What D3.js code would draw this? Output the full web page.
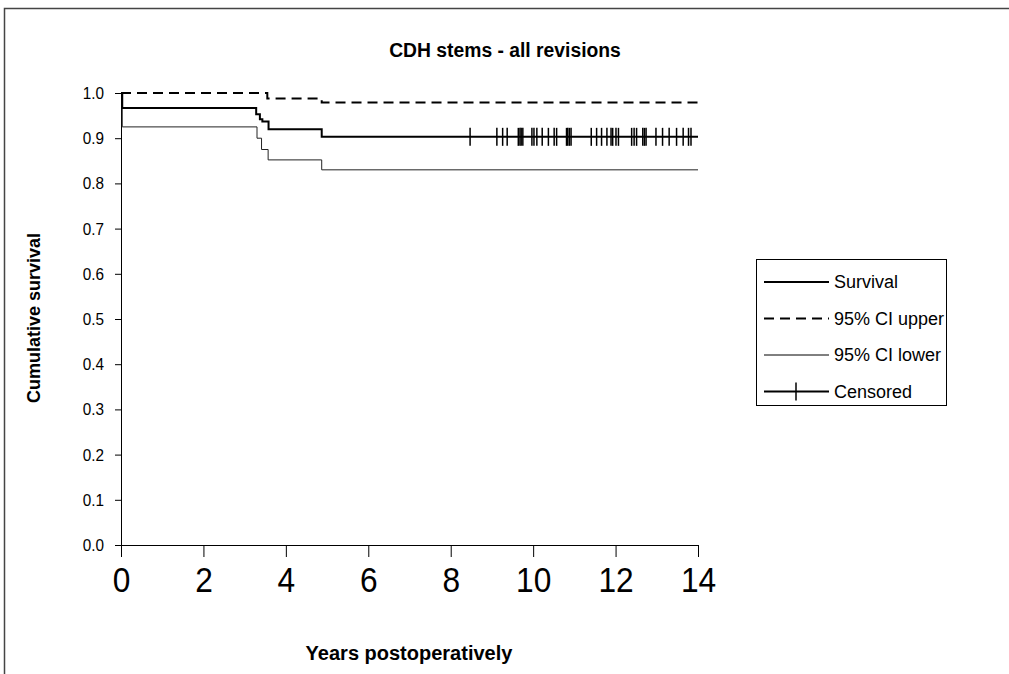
<!DOCTYPE html>
<html>
<head>
<meta charset="utf-8">
<script src="https://cdn.jsdelivr.net/npm/d3@7"></script>
<style>
  body { margin: 0; background: #fff; }
  svg { display: block; font-family: "Liberation Sans", Arial, sans-serif; }
</style>
</head>
<body>
<div id="chart"></div>
<script>
// Kaplan-Meier survival
var survTime = [0, 0.03, 3.28, 3.37, 3.43, 3.58, 4.87, 14];
var survValue = [1, 0.967, 0.953, 0.942, 0.937, 0.920, 0.903, 0.903];

var upperTime = [0, 3.55, 4.87, 14];
var upperValue = [1, 0.988, 0.979, 0.979];

var lowerTime = [0, 0.03, 3.30, 3.41, 3.57, 4.87, 14];
var lowerValue = [1, 0.925, 0.900, 0.875, 0.852, 0.830, 0.830];

// censored cases (years), all on the last survival level
var censoredTime = [8.47, 9.12, 9.26, 9.37, 9.64, 9.68, 9.71, 9.75, 9.97, 10.02, 10.09,
    10.22, 10.37, 10.51, 10.57, 10.81, 10.84, 10.88, 10.92, 11.41, 11.54, 11.66,
    11.79, 11.89, 11.93, 12.01, 12.07, 12.39, 12.45, 12.51, 12.66, 12.70, 12.74,
    12.98, 13.14, 13.30, 13.48, 13.64, 13.77, 13.83];
var censoredValue = 0.903;

var xTicks = [0, 2, 4, 6, 8, 10, 12, 14];
var yTicks = [0, 0.1, 0.2, 0.3, 0.4, 0.5, 0.6, 0.7, 0.8, 0.9, 1.0];

var legendLabels = ["Survival", "95% CI upper", "95% CI lower", "Censored"];

var width = 1009,
    height = 674;

var svg = d3.select("#chart").append("svg")
    .attr("width", width)
    .attr("height", height);

// outer frame (top and left edges only are visible)
svg.append("path")
    .attr("d", "M4.5," + height + "V8.5H" + width)
    .attr("fill", "none")
    .attr("stroke", "#444")
    .attr("stroke-width", 1.5);

var x = d3.scaleLinear().domain([0, 14]).range([121, 698]);
var y = d3.scaleLinear().domain([0, 1]).range([545, 93]);

// title
svg.append("text")
    .attr("transform", "translate(505,57)scale(0.92,1)")
    .attr("text-anchor", "middle")
    .attr("font-size", "21px")
    .attr("font-weight", "bold")
    .text("CDH stems - all revisions");

// axes
var yAxis = d3.axisLeft(y)
    .tickValues(yTicks)
    .tickFormat(d3.format(".1f"))
    .tickSize(6)
    .tickSizeOuter(0)
    .tickPadding(11);

var xAxis = d3.axisBottom(x)
    .tickValues(xTicks)
    .tickSize(12)
    .tickSizeOuter(0)
    .tickPadding(9);

var gy = svg.append("g")
    .attr("transform", "translate(" + x(0) + ",0)")
    .call(yAxis);
gy.selectAll("text")
    .attr("font-size", "17px")
    .attr("fill", "#000")
    .attr("transform", "translate(-17,0)scale(0.9,1)translate(17,0)");

var gx = svg.append("g")
    .attr("transform", "translate(0," + y(0) + ")")
    .call(xAxis);
gx.selectAll("text")
    .attr("font-size", "36px")
    .attr("fill", "#000")
    .attr("transform", "scale(0.88,1)");

svg.selectAll(".domain, .tick line").attr("stroke", "#000");
svg.selectAll("g.tick text").attr("font-family", "Liberation Sans, Arial, sans-serif");

// axis titles
svg.append("text")
    .attr("x", 409)
    .attr("y", 660)
    .attr("text-anchor", "middle")
    .attr("font-size", "20px")
    .attr("font-weight", "bold")
    .text("Years postoperatively");

svg.append("text")
    .attr("transform", "translate(40,318)rotate(-90)")
    .attr("text-anchor", "middle")
    .attr("font-size", "18px")
    .attr("font-weight", "bold")
    .text("Cumulative survival");

// step lines
var step = d3.line()
    .x(function (d) { return x(d[0]); })
    .y(function (d) { return y(d[1]); })
    .curve(d3.curveStepAfter);

function pairs(t, v) {
    return t.map(function (d, i) { return [d, v[i]]; });
}

svg.append("path")
    .datum(pairs(lowerTime, lowerValue))
    .attr("d", step)
    .attr("fill", "none")
    .attr("stroke", "#222")
    .attr("stroke-width", 1);

svg.append("path")
    .datum(pairs(upperTime, upperValue))
    .attr("d", step)
    .attr("fill", "none")
    .attr("stroke", "#000")
    .attr("stroke-width", 2)
    .attr("stroke-dasharray", "10,6");

svg.append("path")
    .datum(pairs(survTime, survValue))
    .attr("d", step)
    .attr("fill", "none")
    .attr("stroke", "#000")
    .attr("stroke-width", 2);

// censored marks
svg.append("g").selectAll("line")
    .data(censoredTime)
    .enter()
    .append("line")
    .attr("x1", function (d) { return x(d); })
    .attr("x2", function (d) { return x(d); })
    .attr("y1", y(censoredValue) - 9)
    .attr("y2", y(censoredValue) + 9)
    .attr("stroke", "#000")
    .attr("stroke-width", 1.5);

// legend
var legend = svg.append("g").attr("transform", "translate(756,259)");
legend.append("rect")
    .attr("x", 0.5)
    .attr("y", 0.5)
    .attr("width", 190)
    .attr("height", 146)
    .attr("fill", "#fff")
    .attr("stroke", "#000")
    .attr("stroke-width", 1);

var items = legend.selectAll(".item")
    .data(legendLabels)
    .enter()
    .append("g")
    .attr("class", "item")
    .attr("transform", function (d, i) { return "translate(0," + (23 + i * 36.5) + ")"; });

items.append("line")
    .attr("x1", 8)
    .attr("x2", 73)
    .attr("stroke", "#000")
    .attr("stroke-width", function (d, i) { return i == 2 ? 1 : 2; })
    .attr("stroke-dasharray", function (d, i) { return i == 1 ? "10,6" : null; });

items.filter(function (d, i) { return i == 3; })
    .append("line")
    .attr("x1", 40)
    .attr("x2", 40)
    .attr("y1", -9)
    .attr("y2", 9)
    .attr("stroke", "#000")
    .attr("stroke-width", 1.5);

items.append("text")
    .attr("x", 78)
    .attr("dy", "0.35em")
    .attr("font-size", "18px")
    .text(function (d) { return d; });
</script>
</body>
</html>
